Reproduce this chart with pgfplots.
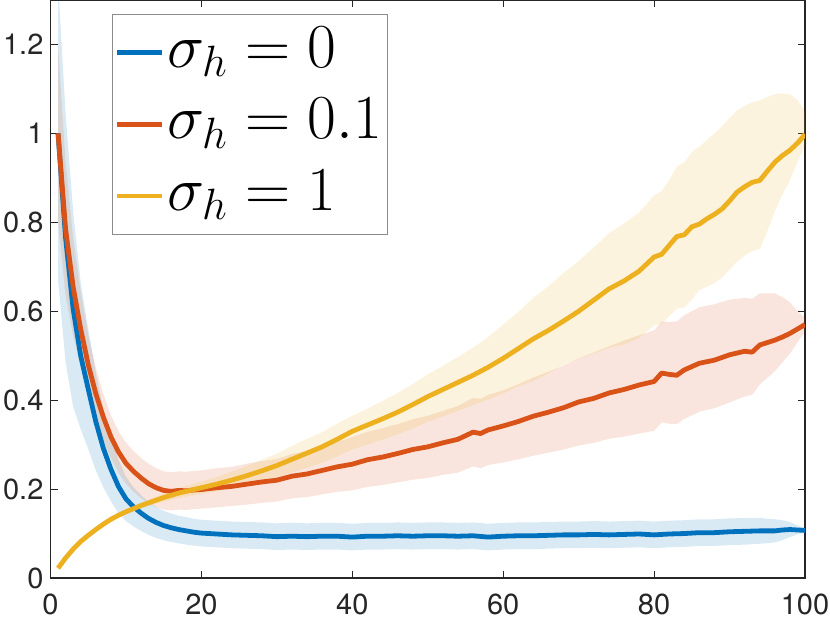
\RequirePackage{fix-cm}
\documentclass[border=0pt]{standalone}
\usepackage{fontspec}
\setmainfont{TeX Gyre Heros}
\usepackage{pgfplots}
\pgfplotsset{compat=1.18}
\usepgfplotslibrary{fillbetween}
\usepackage{pgfplotstable}
\definecolor{mblue}{rgb}{0,0.447,0.741}
\definecolor{mred}{rgb}{0.85,0.325,0.098}
\definecolor{myel}{rgb}{0.929,0.694,0.125}
\definecolor{axgray}{rgb}{0.15,0.15,0.15}
\definecolor{leggray}{rgb}{0.55,0.55,0.55}

\pgfplotstableread{
x y lo hi
1 1.000 0.670 1.340
2 0.765 0.485 1.045
3 0.605 0.385 0.825
4 0.500 0.335 0.665
5 0.425 0.290 0.560
6 0.352 0.242 0.462
7 0.292 0.204 0.380
8 0.245 0.173 0.317
9 0.206 0.146 0.266
10 0.178 0.128 0.228
11 0.160 0.116 0.204
12 0.146 0.106 0.186
13 0.134 0.097 0.171
14 0.125 0.090 0.160
15 0.118 0.085 0.151
16 0.113 0.081 0.145
17 0.109 0.078 0.140
18 0.106 0.075 0.137
19 0.103 0.073 0.133
20 0.101 0.071 0.131
22 0.099 0.069 0.129
24 0.097 0.067 0.127
26 0.096 0.066 0.126
28 0.095 0.065 0.125
30 0.093 0.063 0.123
32 0.094 0.064 0.124
34 0.093 0.063 0.123
36 0.094 0.064 0.124
38 0.094 0.064 0.124
40 0.092 0.062 0.122
42 0.094 0.064 0.124
44 0.094 0.064 0.124
46 0.095 0.065 0.125
48 0.094 0.064 0.124
50 0.095 0.065 0.125
52 0.095 0.065 0.125
54 0.094 0.064 0.124
56 0.095 0.065 0.125
58 0.092 0.062 0.122
60 0.094 0.064 0.124
62 0.095 0.065 0.125
64 0.095 0.065 0.125
66 0.096 0.066 0.126
68 0.097 0.067 0.127
70 0.097 0.067 0.127
72 0.098 0.068 0.128
74 0.097 0.067 0.127
76 0.098 0.068 0.128
78 0.099 0.069 0.129
80 0.097 0.067 0.127
82 0.099 0.069 0.129
84 0.100 0.070 0.130
86 0.102 0.072 0.132
88 0.102 0.072 0.132
90 0.104 0.074 0.134
92 0.105 0.075 0.135
94 0.106 0.077 0.135
96 0.106 0.080 0.132
97 0.108 0.085 0.130
98 0.109 0.092 0.126
99 0.108 0.098 0.118
100 0.107 0.102 0.112
}\blueT

\pgfplotstableread{
x y lo hi
1 1.000 0.800 1.200
2 0.785 0.635 0.935
3 0.655 0.545 0.765
4 0.560 0.475 0.645
5 0.480 0.412 0.548
6 0.415 0.357 0.473
7 0.362 0.310 0.414
8 0.318 0.270 0.366
9 0.284 0.237 0.331
10 0.258 0.212 0.304
11 0.240 0.194 0.286
12 0.225 0.180 0.270
13 0.212 0.167 0.257
14 0.203 0.159 0.247
15 0.197 0.154 0.240
16 0.195 0.152 0.238
17 0.197 0.154 0.240
18 0.196 0.153 0.239
19 0.198 0.155 0.241
20 0.199 0.156 0.242
22 0.203 0.159 0.247
24 0.206 0.162 0.250
26 0.211 0.165 0.257
28 0.216 0.169 0.263
30 0.220 0.172 0.268
32 0.229 0.179 0.279
34 0.234 0.182 0.286
36 0.242 0.188 0.296
38 0.250 0.194 0.306
40 0.256 0.197 0.317
42 0.266 0.205 0.329
44 0.272 0.209 0.337
46 0.280 0.215 0.346
48 0.289 0.221 0.357
50 0.295 0.225 0.365
52 0.304 0.232 0.376
54 0.312 0.237 0.387
56 0.328 0.251 0.405
57 0.325 0.247 0.403
58 0.333 0.254 0.412
60 0.342 0.260 0.422
62 0.352 0.267 0.436
64 0.364 0.275 0.451
66 0.373 0.282 0.464
68 0.383 0.289 0.478
70 0.396 0.298 0.494
72 0.404 0.304 0.507
74 0.416 0.313 0.521
76 0.424 0.318 0.534
78 0.434 0.325 0.546
80 0.442 0.331 0.557
81 0.461 0.350 0.577
82 0.458 0.347 0.576
83 0.456 0.346 0.577
84 0.468 0.358 0.591
86 0.483 0.374 0.609
88 0.490 0.382 0.616
90 0.502 0.395 0.626
92 0.510 0.408 0.630
93 0.508 0.412 0.628
94 0.524 0.435 0.640
96 0.535 0.465 0.640
97 0.542 0.485 0.632
98 0.550 0.505 0.620
99 0.560 0.530 0.600
100 0.570 0.555 0.585
}\redT

\pgfplotstableread{
x y lo hi
1 0.022 0.018 0.026
2 0.045 0.041 0.049
3 0.065 0.061 0.069
4 0.082 0.078 0.086
5 0.096 0.092 0.100
6 0.109 0.105 0.113
7 0.121 0.116 0.126
8 0.132 0.127 0.137
9 0.141 0.136 0.146
10 0.149 0.143 0.155
11 0.156 0.150 0.162
12 0.163 0.156 0.170
13 0.169 0.162 0.176
14 0.175 0.167 0.183
15 0.181 0.172 0.190
16 0.186 0.176 0.196
17 0.191 0.180 0.202
18 0.195 0.183 0.207
19 0.199 0.186 0.212
20 0.203 0.189 0.217
22 0.211 0.195 0.227
24 0.220 0.201 0.239
26 0.230 0.208 0.252
28 0.241 0.216 0.266
30 0.253 0.226 0.280
32 0.267 0.237 0.297
34 0.281 0.248 0.313
36 0.295 0.259 0.328
38 0.312 0.273 0.347
40 0.330 0.289 0.365
42 0.344 0.300 0.381
44 0.358 0.311 0.398
46 0.373 0.323 0.416
48 0.390 0.336 0.436
50 0.408 0.351 0.458
52 0.424 0.363 0.477
54 0.440 0.376 0.497
56 0.456 0.389 0.518
58 0.474 0.401 0.542
60 0.494 0.415 0.570
62 0.516 0.431 0.598
64 0.538 0.443 0.630
66 0.557 0.460 0.656
68 0.578 0.480 0.686
70 0.600 0.493 0.713
72 0.625 0.505 0.743
74 0.650 0.518 0.775
76 0.668 0.525 0.797
78 0.690 0.540 0.822
80 0.722 0.568 0.860
81 0.728 0.572 0.870
82 0.748 0.589 0.895
83 0.768 0.606 0.925
84 0.772 0.608 0.935
85 0.790 0.626 0.958
86 0.796 0.648 0.970
87 0.808 0.655 0.985
88 0.818 0.663 1.000
89 0.830 0.676 1.016
90 0.848 0.693 1.035
91 0.868 0.712 1.052
92 0.880 0.725 1.062
93 0.890 0.735 1.070
94 0.894 0.740 1.074
95 0.915 0.780 1.082
96 0.935 0.825 1.088
97 0.950 0.862 1.090
98 0.962 0.895 1.088
99 0.978 0.935 1.075
100 0.998 0.975 1.050
}\yelT

\begin{document}
\begin{tikzpicture}
\begin{axis}[
  name=ax,
  scale only axis,
  width=377.25pt, height=289pt,
  xmin=0, xmax=100, ymin=0, ymax=1.3,
  xtick={0,20,40,60,80,100},
  ytick={0,0.2,0.4,0.6,0.8,1,1.2},
  tick align=inside,
  major tick length=3.5pt,
  axis line style={axgray, line width=0.55pt},
  tick style={axgray, line width=0.55pt},
  /pgf/number format/assume math mode=true,
  ticklabel style={font=\fontsize{14.5}{17}\selectfont, text=axgray},
  xticklabel style={yshift=-4.2pt},
  legend image code/.code={\draw[#1] (0pt,0pt) -- (22.5pt,0pt);},
  legend cell align=left,
  legend style={
    at={(axis description cs:0.0815,0.9758)}, anchor=north west,
    draw=leggray, line width=0.5pt,
    font=\fontsize{31.3}{35.8}\selectfont,
    inner xsep=1.25pt, inner ysep=1.3pt,
    row sep=0pt,
    nodes={inner xsep=1.25pt, inner ysep=0pt, text height=25.05pt, text depth=10.75pt},
  },
]
\addplot[draw=none, forget plot, name path=bhi] table[x=x, y=hi]{\blueT};
\addplot[draw=none, forget plot, name path=blo] table[x=x, y=lo]{\blueT};
\addplot[fill=mblue, fill opacity=0.15, draw=none, forget plot] fill between[of=bhi and blo];

\addplot[draw=none, forget plot, name path=rhi] table[x=x, y=hi]{\redT};
\addplot[draw=none, forget plot, name path=rlo] table[x=x, y=lo]{\redT};
\addplot[fill=mred, fill opacity=0.15, draw=none, forget plot] fill between[of=rhi and rlo];

\addplot[draw=none, forget plot, name path=yhi] table[x=x, y=hi]{\yelT};
\addplot[draw=none, forget plot, name path=ylo] table[x=x, y=lo]{\yelT};
\addplot[fill=myel, fill opacity=0.15, draw=none, forget plot] fill between[of=yhi and ylo];

\addplot[mblue, line width=2.4pt, line join=round] table[x=x, y=y]{\blueT};
\addlegendentry{$\sigma_h = 0$}
\addplot[mred, line width=2.4pt, line join=round] table[x=x, y=y]{\redT};
\addlegendentry{$\sigma_h = 0.1$}
\addplot[myel, line width=2.4pt, line join=round] table[x=x, y=y]{\yelT};
\addlegendentry{$\sigma_h = 1$}
\end{axis}
\pgfresetboundingbox
\path[use as bounding box] ([xshift=-25.25pt,yshift=-22.5pt]ax.south west) rectangle ([xshift=12.5pt]ax.north east);
\end{tikzpicture}
\end{document}
